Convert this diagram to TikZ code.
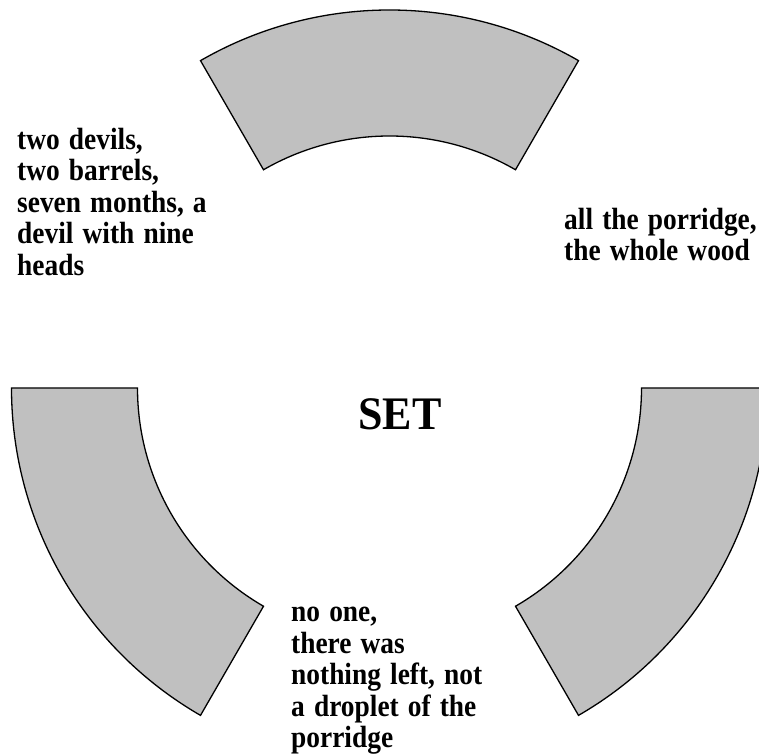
\documentclass[tikz,border=0pt]{standalone}
\usepackage{fontspec}
\setmainfont{Liberation Serif}
\usetikzlibrary{positioning, calc}
\definecolor{sectorfill}{RGB}{192, 192, 192}
\definecolor{sectorline}{RGB}{0, 0, 0}

\tikzset{
    sector/.style={draw=sectorline, fill=sectorfill, line width=1.3pt, line join=miter},
    lbl/.style={inner sep=0pt, anchor=base west, align=left, text width=215pt,
                yscale=1.12, transform shape,
                font=\fontsize{27.4}{28.1}\selectfont\bfseries}
}

\begin{document}
\begin{tikzpicture}[x=1pt, y=1pt]
    \path[use as bounding box] (0,0) rectangle (759,755);
    \clip (0,0) rectangle (759,755);
    \coordinate (c) at (389.5,367);
    \foreach \a in {60,180,300} {
        \draw[sector] ([shift={(\a:378)}]c) arc[start angle=\a, end angle=\a+60, radius=378]
            -- ([shift={(\a+60:252)}]c) arc[start angle=\a+60, end angle=\a, radius=252] -- cycle;
    }
    \node[inner sep=0pt, anchor=base, yscale=1.06, transform shape,
          font=\fontsize{44}{50}\selectfont\bfseries] (set) at (400,325.7) {SET};
    \node[lbl] (devils) at (17,605.7) {two devils,\\two barrels,\\seven months, a\\devil with nine\\heads};
    \node[lbl] (porridge) at (564,525.7) {all the porridge,\\the whole wood};
    \node[lbl] (noone) at (291,133.3) {no one,\\there was\\nothing left, not\\a droplet of the\\porridge};
\end{tikzpicture}
\end{document}
